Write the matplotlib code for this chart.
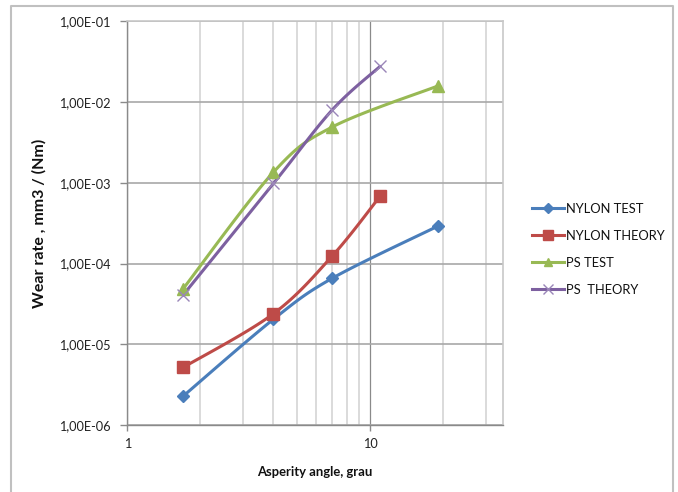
import numpy as np
import matplotlib
matplotlib.use("Agg")
import matplotlib.pyplot as plt
from matplotlib.ticker import FixedLocator, FuncFormatter, NullFormatter
from matplotlib.lines import Line2D

# ---- data ----
angles_nylon_test = [1.7, 4, 7, 19]
nylon_test = [2.3e-6, 2.05e-5, 6.6e-5, 2.9e-4]
angles_nylon_theory = [1.7, 4, 7, 11]
nylon_theory = [5.2e-6, 2.4e-5, 1.25e-4, 6.8e-4]
angles_ps_test = [1.7, 4, 7, 19]
ps_test = [4.9e-5, 1.35e-3, 4.9e-3, 1.57e-2]
angles_ps_theory = [1.7, 4, 7, 11]
ps_theory = [4.1e-5, 9.8e-4, 8.0e-3, 2.75e-2]

series_names = ["NYLON TEST", "NYLON THEORY", "PS TEST", "PS  THEORY"]
x_ticks = [1, 10]
x_tick_labels = ["1", "10"]
y_ticks = [1e-6, 1e-5, 1e-4, 1e-3, 1e-2, 1e-1]
y_tick_labels = ["1,00E-06", "1,00E-05", "1,00E-04", "1,00E-03", "1,00E-02", "1,00E-01"]
x_label = "Asperity angle, grau"
y_label = "Wear rate , mm3 / (Nm)"

plt.rcParams['font.family'] = ['Lato', 'DejaVu Sans']

W, H = 678, 492
fig = plt.figure(figsize=(W / 100, H / 100), dpi=100)
fig.patch.set_facecolor("white")

L, R, T, B = 127.3, 502.7, 21.0, 425.3
ax = fig.add_axes([L / W, 1 - B / H, (R - L) / W, (B - T) / H])
ax.set_xscale("log")
ax.set_yscale("log")
ax.set_xlim(1, 35.2)
ax.set_ylim(1e-6, 1e-1)

# grid
ax.xaxis.set_major_locator(FixedLocator(x_ticks))
ax.xaxis.set_minor_locator(FixedLocator([2, 3, 4, 5, 6, 7, 8, 9, 20, 30]))
ax.xaxis.set_major_formatter(FuncFormatter(lambda v, p: x_tick_labels[x_ticks.index(v)] if v in x_ticks else ""))
ax.xaxis.set_minor_formatter(NullFormatter())
ax.yaxis.set_major_locator(FixedLocator(y_ticks))
ax.yaxis.set_minor_locator(FixedLocator([]))
ax.yaxis.set_major_formatter(FuncFormatter(lambda v, p: y_tick_labels[int(round(np.log10(v))) + 6]))

ax.grid(True, which="minor", axis="x", color="#d4d4d4", lw=1.2)
ax.grid(True, which="major", axis="x", color="#8a8a8a", lw=0.9)
ax.grid(True, which="major", axis="y", color="#a8a8a8", lw=1.2)
ax.set_axisbelow(True)

for s in ["top", "right"]:
    ax.spines[s].set_color("#c8c8c8")
    ax.spines[s].set_linewidth(1.2)
for s in ["left", "bottom"]:
    ax.spines[s].set_color("#8a8a8a")
    ax.spines[s].set_linewidth(1.0)

ax.tick_params(axis="y", which="major", direction="out", length=5, width=1, color="#8a8a8a",
               labelsize=9.2, labelcolor="#222222", pad=7)
ax.tick_params(axis="x", which="major", direction="out", length=4, width=1, color="#8a8a8a",
               labelsize=9.2, labelcolor="#222222", pad=5)
ax.tick_params(axis="x", which="minor", length=0)

ax.set_xlabel(x_label, fontsize=9.4, fontweight="bold", labelpad=12, color="#111111")
ax.set_ylabel(y_label, fontsize=11.5, fontweight="bold", labelpad=9, color="#111111")


def smooth(xs, ys, n=40):
    # Excel-like smoothing (Bezier with 1/6 tangents) in display space
    pts = ax.transData.transform(np.column_stack([xs, ys]))
    out = [pts[0]]
    m = len(pts)
    for i in range(m - 1):
        p0 = pts[i - 1] if i > 0 else pts[i]
        p1 = pts[i]
        p2 = pts[i + 1]
        p3 = pts[i + 2] if i + 2 < m else pts[i + 1]
        c1 = p1 + (p2 - p0) / 6.0
        c2 = p2 - (p3 - p1) / 6.0
        t = np.linspace(0, 1, n)[1:, None]
        seg = ((1 - t) ** 3) * p1 + 3 * ((1 - t) ** 2) * t * c1 + 3 * (1 - t) * t ** 2 * c2 + t ** 3 * p2
        out.extend(seg)
    out = np.array(out)
    d = ax.transData.inverted().transform(out)
    return d[:, 0], d[:, 1]


colors = ["#4A7EBB", "#BE4B48", "#98B954", "#7D60A0"]
markers = ["D", "s", "^", "x"]
msizes = [6, 8.5, 8, 9]
data = [(angles_nylon_test, nylon_test), (angles_nylon_theory, nylon_theory),
        (angles_ps_test, ps_test), (angles_ps_theory, ps_theory)]

handles = []
for (xs, ys), c, mk, ms, name in zip(data, colors, markers, msizes, series_names):
    sx, sy = smooth(xs, ys)
    ax.plot(sx, sy, color=c, lw=2.2, solid_capstyle="round", zorder=3)
    if mk == "x":
        ax.plot(xs, ys, ls="none", marker=mk, ms=ms, mew=1.0, color="#9a86b8", zorder=4)
        h = Line2D([], [], color=c, lw=2.2, marker=mk, ms=7, mew=1.0, mec="#9a86b8")
    else:
        ax.plot(xs, ys, ls="none", marker=mk, ms=ms, color=c, mec=c, zorder=4)
        h = Line2D([], [], color=c, lw=2.2, marker=mk, ms=ms * 0.8, mec=c)
    handles.append(h)

leg = fig.legend(handles, series_names, loc="upper left", bbox_to_anchor=(532 / W, 1 - 203 / H),
                 frameon=False, fontsize=9.3, handlelength=2.5, handletextpad=0.1,
                 labelspacing=1.15, borderpad=0, borderaxespad=0)
for t in leg.get_texts():
    t.set_color("#111111")

# outer chart border (left, top, right)
fig.add_artist(Line2D([11 / W, 11 / W, 673 / W, 673 / W], [0, 1 - 5.5 / H, 1 - 5.5 / H, 0],
                      transform=fig.transFigure, color="#c0c0c0", lw=1.5))

fig.savefig("out.png", dpi=100)
